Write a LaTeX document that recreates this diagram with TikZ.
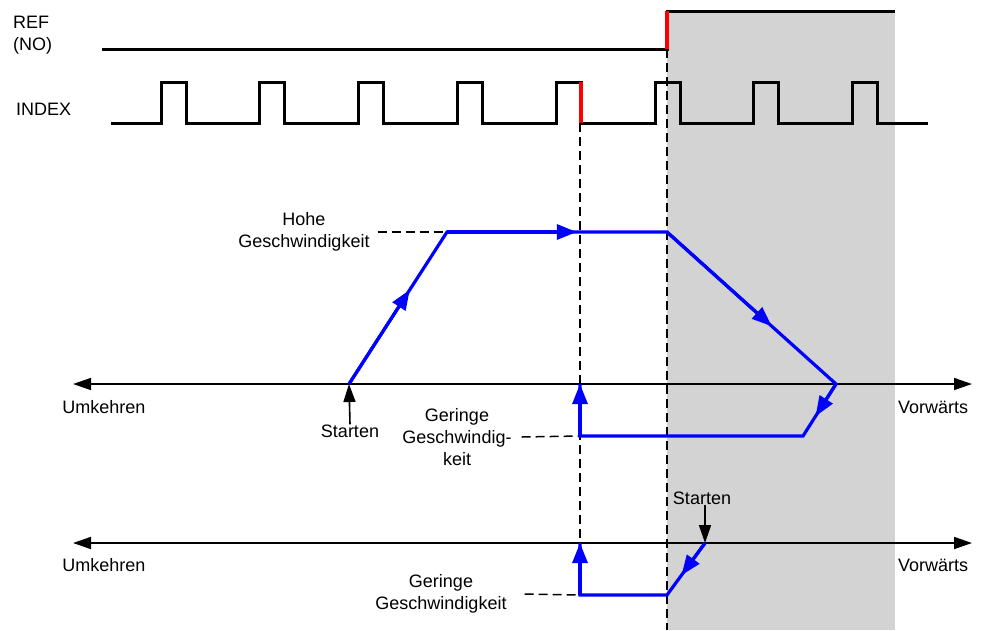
\documentclass[tikz,border=0pt]{standalone}
\usepackage{fontspec}
\setmainfont{Liberation Sans}
\usetikzlibrary{arrows.meta,calc}
\definecolor{zonegray}{RGB}{211,211,211}
\definecolor{velblue}{RGB}{0,0,255}
\definecolor{edgered}{RGB}{255,0,0}
\begin{document}
\begin{tikzpicture}[x=1pt,y=-1pt,
  sig/.style={line width=3pt, line join=miter},
  redge/.style={line width=3.2pt, edgered},
  axis/.style={line width=1.6pt, {Triangle[length=18pt,width=12pt]}-{Triangle[length=18pt,width=12pt]}},
  vel/.style={line width=3.2pt, velblue, line join=miter},
  velarr/.style={line width=3.2pt, velblue, -{Triangle[length=20pt,width=15pt]}},
  guide/.style={line width=1.5pt, dash pattern=on 9pt off 5pt},
  lbl/.style={font=\fontsize{18}{22}\selectfont, inner sep=0pt, align=center},
  startarr/.style={line width=1.6pt, -{Triangle[length=18pt,width=12pt]}}]

\useasboundingbox (0,0) rectangle (982,630);
\fill[zonegray] (667,11) rectangle (895,630);

% guide lines
\draw[guide] (580,123) -- (580,595);
\draw[guide] (667,49) -- (667,630);

% REF signal
\node[lbl, anchor=west, align=left] (ref) at (13,35) {REF\\(NO)};
\draw[sig] (102,49) -- (667,49) -- (667,11) -- (895,11);
\draw[redge] (667,49) -- (667,11);

% INDEX signal
\node[lbl, anchor=west] (idx) at (16,109) {INDEX};
\draw[sig] (111,123) foreach \r in {161,259,358,457,556,655,753,852} { -- (\r,123) -- (\r,82) -- (\r+25,82) -- (\r+25,123) } -- (928,123);
\draw[redge] (581,82) -- (581,123);

% axes
\draw[axis] (73,384) -- (972,384);
\draw[axis] (73,543) -- (972,543);
\node[lbl] (um1) at (104,407) {Umkehren};
\node[lbl] (vo1) at (933,407) {Vorwärts};
\node[lbl] (um2) at (104,565) {Umkehren};
\node[lbl] (vo2) at (933,565) {Vorwärts};

% profile 1
\coordinate (s1) at (349,384);
\coordinate (h1) at (447,232);
\coordinate (h2) at (667,232);
\coordinate (v1) at (836,384);
\coordinate (l1) at (803,436);
\coordinate (l2) at (580,436);
\coordinate (z1) at (580,384);
\node[lbl] (hohe) at (304,232) {Hohe\\Geschwindigkeit};
\draw[guide] ([xshift=8pt]hohe.east) -- (h1);
\node[lbl] (ger1) at (457,437) {Geringe\\Geschwindig-\\keit};
\draw[guide] ([xshift=10pt]ger1.east) -- (l2);
\draw[vel] (s1) -- (h1) -- (h2) -- (v1) -- (l1) -- (l2) -- (z1);
\draw[velarr] (s1) -- ($(s1)!0.62!(h1)$);
\draw[velarr] (h1) -- ($(h1)!0.59!(h2)$);
\draw[velarr] (h2) -- ($(h2)!0.62!(v1)$);
\draw[velarr] (v1) -- ($(v1)!0.62!(l1)$);
\draw[velarr] (l2) -- (z1);
\node[lbl] (st1) at (350,431) {Starten};
\draw[startarr] (st1.north) -- (s1);

% profile 2
\coordinate (s2) at (705,543);
\coordinate (m1) at (667,595);
\coordinate (m2) at (580,595);
\coordinate (z2) at (580,543);
\node[lbl] (ger2) at (441,594) {Geringe\\Geschwindigkeit};
\draw[guide] ([xshift=18pt]ger2.east) -- (m2);
\draw[vel] (s2) -- (m1) -- (m2) -- (z2);
\draw[velarr] (s2) -- ($(s2)!0.62!(m1)$);
\draw[velarr] (m2) -- (z2);
\node[lbl] (st2) at (702,498) {Starten};
\draw[startarr] (st2.south -| s2) -- (s2);
\end{tikzpicture}
\end{document}
